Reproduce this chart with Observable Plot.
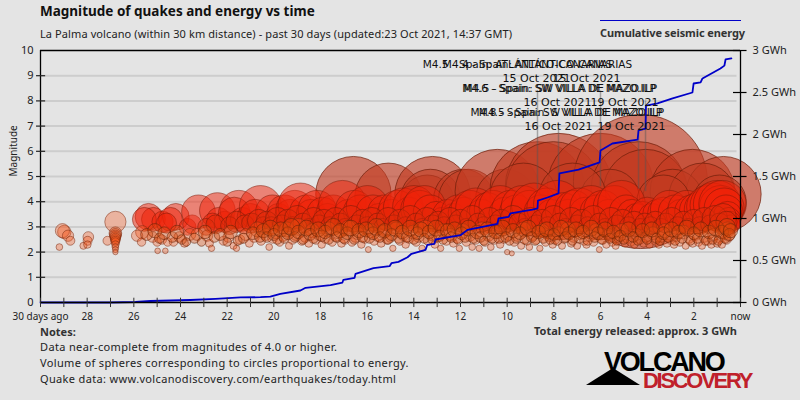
<!DOCTYPE html>
<html><head><meta charset="utf-8">
<script src="https://cdn.jsdelivr.net/npm/d3@7"></script>
<script src="https://cdn.jsdelivr.net/npm/@observablehq/plot@0.6"></script>
<style>
html,body{margin:0;padding:0;background:#e4e4e4;width:800px;height:400px;overflow:hidden}
#wrap{position:relative;width:800px;height:400px;font-family:"Noto Sans",sans-serif;color:#222}
#wrap svg{position:absolute;left:0;top:0}
.t{position:absolute;white-space:nowrap;line-height:1}
.n{letter-spacing:.35px}
</style></head><body><div id="wrap">
<div class="t" style="left:40px;top:5px;font-size:13.5px;font-weight:700;color:#111">Magnitude of quakes and energy vs time</div>
<div class="t" style="left:40px;top:28px;font-size:11px;letter-spacing:.1px">La Palma volcano (within 30 km distance) - past 30 days (updated:23 Oct 2021, 14:37 GMT)</div>
<div style="position:absolute;left:600px;top:20px;width:141px;height:1px;background:#0000c8"></div>
<div class="t" style="left:600px;top:27px;font-size:11px;font-weight:700;color:#333;letter-spacing:-.1px">Cumulative seismic energy</div>
<div class="t" style="left:40px;top:326px;font-size:11px;font-weight:700;color:#333">Notes:</div>
<div class="t" style="left:534px;top:325px;font-size:11px;font-weight:700;color:#333">Total energy released: approx. 3 GWh</div>
<div class="t n" style="left:40px;top:341px;font-size:11px">Data near-complete from magnitudes of 4.0 or higher.</div>
<div class="t n" style="left:40px;top:357px;font-size:11px">Volume of spheres corresponding to circles proportional to energy.</div>
<div class="t n" style="left:40px;top:373px;font-size:11px">Quake data: www.volcanodiscovery.com/earthquakes/today.html</div>
<div style="position:absolute;left:586px;top:368px;width:0;height:0;border-left:27px solid transparent;border-right:27px solid transparent;border-bottom:17px solid #000"></div>
<div class="t" style="left:604px;top:347px;font:700 27px 'Liberation Sans',sans-serif;letter-spacing:-2.2px;color:#000">VOLCANO</div>
<div class="t" style="left:643px;top:368px;font:700 22px 'Liberation Sans',sans-serif;letter-spacing:-2.3px;color:#c0202a">DISCOVERY</div>
</div>
<script>
// Cumulative energy: [days ago, GWh]
const energy = [[30,0],[27,0],[25.93,.006],[25.29,.018],[24.43,.024],[23.57,.03],[22.5,.042],[21.43,.06],[20.57,.063],[20.15,.071],[19.72,.103],[18.86,.143],[18.64,.175],[17.57,.206],[17.06,.238],[17.02,.27],[16.54,.294],[16.5,.341],[15.73,.408],[15.04,.432],[14.96,.468],[14.66,.484],[14.27,.539],[14.1,.58],[13.5,.627],[13.42,.687],[13.12,.699],[13.07,.75],[12,.801],[11.7,.865],[10.42,.935],[10.37,1],[9.94,1.02],[9.86,1.06],[8.92,1.107],[8.7,1.12],[8.68,1.214],[8.27,1.25],[7.8,1.298],[7.76,1.536],[6.94,1.583],[6.04,1.667],[6,1.81],[5.49,1.893],[4.41,1.94],[4.37,2.048],[4.07,2.071],[4.05,2.345],[3.56,2.37],[2.91,2.43],[2.06,2.5],[2.01,2.607],[1.71,2.62],[1.63,2.667],[.86,2.786],[.69,2.82],[.64,2.893],[.39,2.905]];

// Quakes: [days ago, magnitude]
const largeQuakes = [[16.59,4.3],[15.09,4.2],[13.2,4.3],[13.42,4.0],[13.29,4.1],[11.87,4.1],[11.66,4.1],[10.42,4.4],[10.07,4.1],[8.7,4.5],[7.8,4.6],[8.02,4.5],[6,4.6],[4.29,4.8],[4.37,4.5],[4.07,4.4],[2.06,4.4],[.73,4.3],[2.91,4.1],[1.63,4.2],[5.6,4.1],[9.3,4.2],[7.2,4.2],[3.3,4.0],[.9,4.0]];

const mediumQuakes = [[25.37,3.4],[25.16,3.3],[25.55,3.3],[24.77,3.2],[24.2,3.4],[24.43,3.3],[24.6,3.15],[23.7,3.0],[23.5,3.1],[23.23,3.6],[22.42,3.65],[22.37,3.3],[22.63,3.15],[22.1,3.2],[21.5,3.7],[21.7,3.55],[21.35,3.3],[21,3.4],[20.57,3.8],[20.8,3.5],[20.06,3.6],[19.8,3.4],[19.55,3.6],[19.3,3.5],[19.1,3.7],[18.86,3.85],[18.6,3.6],[18.4,3.5],[18.15,3.7],[17.9,3.55],[17.7,3.4],[17.45,3.6],[17.06,3.9],[16.8,3.5],[16.55,3.7],[16.3,3.6],[15.99,3.8],[15.75,3.6],[15.5,3.4],[15.25,3.6],[14.95,3.5],[14.7,3.7],[14.45,3.75],[14.2,3.55],[14.0,3.8],[13.75,3.7],[13.55,3.8],[13.3,3.6],[13.05,3.45],[12.8,3.3],[12.55,3.5],[12.3,3.4],[12.1,3.6],[11.85,3.55],[11.6,3.7],[11.35,3.75],[11.1,3.5],[10.85,3.65],[10.6,3.7],[10.3,3.8],[10.1,3.55],[9.85,3.7],[9.6,3.6],[9.35,3.8],[9.05,3.7],[8.85,3.85],[8.55,3.6],[8.3,3.75],[8.1,3.5],[7.85,3.9],[7.6,3.65],[7.4,3.5],[7.15,3.7],[6.9,3.75],[6.65,3.55],[6.4,3.8],[6.15,3.6],[5.9,3.7],[5.65,3.5],[5.4,3.8],[5.1,3.9],[4.9,3.6],[4.65,3.5],[4.45,3.4],[4.2,3.45],[4.0,3.55],[3.8,3.4],[3.55,3.5],[3.3,3.55],[3.05,3.7],[2.8,3.6],[2.55,3.5],[2.3,3.7],[2.1,3.6],[1.85,3.65],[1.6,3.7],[1.4,3.8],[1.2,3.85],[1.0,3.9],[.85,3.8],[.77,3.9],[.7,3.75],[.62,3.6],[.55,3.45],[.5,3.3],[.45,3.2],[.42,3.1]];

const lowMediumQuakes = [[22.9,3.0],[22.5,3.1],[21.9,3.05],[21.6,3.2],[21.25,3.1],[20.95,3.15],[20.65,3.25],[20.45,3.05],[20.3,3.2],[20.1,3.05],[19.85,3.3],[19.65,3.1],[19.4,3.25],[19.2,3.05],[19,3.35],[18.75,3.15],[18.5,3.0],[18.3,3.3],[18.05,3.1],[17.85,3.25],[17.6,3.05],[17.35,3.3],[17.15,3.15],[16.95,3.0],[16.7,3.35],[16.45,3.1],[16.2,3.25],[16,3.05],[15.8,3.3],[15.55,3.15],[15.35,3.0],[15.1,3.3],[14.85,3.1],[14.6,3.25],[14.35,3.05],[14.15,3.35],[13.9,3.15],[13.65,3.0],[13.45,3.3],[13.2,3.1],[12.95,3.2],[12.7,3.05],[12.45,3.3],[12.2,3.1],[12,3.25],[11.75,3.0],[11.5,3.35],[11.25,3.15],[11,3.05],[10.75,3.3],[10.5,3.1],[10.25,3.25],[10,3.05],[9.75,3.35],[9.5,3.15],[9.25,3.0],[9,3.3],[8.75,3.1],[8.5,3.25],[8.25,3.05],[8,3.35],[7.75,3.15],[7.5,3.0],[7.25,3.3],[7,3.1],[6.8,3.25],[6.55,3.05],[6.3,3.35],[6.05,3.15],[5.8,3.0],[5.55,3.3],[5.3,3.1],[5.05,3.25],[4.8,3.05],[4.55,3.2],[4.3,3.0],[4.1,3.15],[3.85,3.05],[3.65,3.2],[3.4,3.0],[3.2,3.15],[2.95,3.3],[2.7,3.05],[2.45,3.2],[2.25,3.0],[2,3.25],[1.75,3.05],[1.55,3.3],[1.3,3.1],[1.1,3.35],[.9,3.15],[.75,3.4],[.6,3.2]];

const smallQuakes = [[29.19,2.2],[28.98,2.8],[29.06,2.85],[28.82,2.65],[28.72,2.45],[28.16,2.25],[27.95,2.6],[27.98,2.45],[27.99,2.3],[27.13,2.45],[26.79,3.2],[26.79,2.75],[26.79,2.7],[26.79,2.65],[26.79,2.6],[26.79,2.55],[26.79,2.5],[26.79,2.45],[26.79,2.4],[26.79,2.3],[26.79,2.2],[26.79,2.1],[26.79,2.0],
[25.64,2.79],[25.86,2.65],[25.67,2.4],[24.98,2.05],[24.65,2.05],[25.2,2.6],[25,2.4],[24.8,2.5],[24.55,2.4],[24.3,2.4],[23.83,2.35],[24.05,2.6],[23.6,2.7],[23.29,2.7],[22.86,2.65],[22.76,2.35],[22.67,2.15],[22.16,2.45],[21.73,2.25],[21.6,2.15],[21.95,2.6],[21.45,2.5],[21.2,2.7],[21.05,2.35],[20.85,2.6],[20.7,2.9],[20.55,2.45],[20.35,2.7],[20.2,2.2],[20.05,2.55],[19.9,2.8],[19.75,2.4],[19.6,2.65],[19.45,2.9],[19.35,2.25],[19.2,2.5],[19.05,2.7],[18.95,3.0],[18.8,2.45],[18.65,2.6],[18.5,2.35],[18.35,2.85],[18.2,2.5],[18.05,2.7],[17.95,2.3],[17.8,2.55],[17.65,2.9],[17.5,2.4],[17.35,2.65],[17.25,2.8],[17.1,2.35],[16.95,2.5],[16.8,2.95],[16.65,2.4],[16.5,2.6],[16.4,2.75],[16.25,2.3],[16.1,2.55],[15.95,2.1],[15.85,2.85],[15.7,2.45],[15.55,2.65],[15.4,2.35],[15.3,2.8],[15.15,2.5],[15,2.6],[14.9,2.15],[14.75,2.9],[14.6,2.45],[14.45,2.7],[14.35,2.3],[14.2,2.55],[14.05,2.8],[13.9,2.4],[13.8,2.6],[13.65,2.15],[13.5,2.95],[13.4,2.45],[13.25,2.7],[13.1,2.3],[13,2.6],[12.85,2.15],[12.7,2.85],[12.6,2.45],[12.45,2.7],[12.3,2.35],[12.15,2.55],[12.05,2.15],[11.9,2.85],[11.75,2.4],[11.6,2.65],[11.5,2.2],[11.35,2.5],[11.2,2.15],[11.1,2.9],[10.95,2.4],[10.8,2.65],[10.7,2.2],[10.55,2.5],[10.4,2.8],[10.3,2.3],[10.15,2.55],[10,2.0],[9.95,2.7],[9.8,1.95],[9.7,2.4],[9.55,2.65],[9.4,2.25],[9.3,2.9],[9.15,2.45],[9.05,2.2],[8.9,2.7],[8.75,2.5],[8.6,2.15],[8.5,2.85],[8.35,2.4],[8.2,2.65],[8.05,2.3],[7.95,2.5],[7.8,2.75],[7.65,2.25],[7.55,2.55],[7.4,2.9],[7.25,2.35],[7.15,2.6],[7,2.25],[6.85,2.75],[6.7,2.45],[6.6,2.3],[6.45,2.65],[6.3,2.4],[6.2,2.85],[6.05,2.1],[5.9,2.5],[5.75,2.3],[5.65,2.7],[5.5,2.4],[5.35,2.25],[5.25,2.6],[5.1,2.85],[4.95,2.35],[4.85,2.55],[4.7,2.4],[4.55,2.3],[4.45,2.7],[4.3,2.5],[4.15,2.35],[4.05,2.6],[3.9,2.3],[3.75,2.75],[3.65,2.45],[3.5,2.3],[3.4,2.6],[3.25,2.85],[3.15,2.35],[3,2.5],[2.85,2.3],[2.75,2.65],[2.6,2.4],[2.45,2.8],[2.35,2.25],[2.2,2.55],[2.05,2.35],[1.95,2.7],[1.8,2.4],[1.65,2.25],[1.55,2.6],[1.4,2.45],[1.25,2.3],[1.15,2.7],[1.0,2.35],[.9,2.55],[.8,2.3],[.7,2.75],[.6,2.5],[.55,2.9],[.5,2.65]];

const denseQuakes = [[25.45,2.7],[25.1,2.85],[24.9,2.55],[24.7,2.75],[24.35,2.6],[24.15,2.8],[23.95,2.5],[23.75,2.4],[23.4,2.55],[23.1,2.4],[22.95,2.8],[22.55,2.6],[22.3,2.7],[22,2.4],[21.85,2.8],[21.55,2.45],[21.3,2.55],[20.9,2.75],[20.6,2.6],[20.45,2.85],[20.3,2.6],[20.15,2.95],[20,2.7],[19.85,2.5],[19.7,2.9],[19.55,2.55],[19.4,2.75],[19.25,3.0],[19.1,2.6],[18.95,2.8],[18.75,2.5],[18.6,2.95],[18.45,2.7],[18.3,2.55],[18.1,2.9],[17.95,2.65],[17.8,2.8],[17.65,2.5],[17.45,3.0],[17.3,2.6],[17.15,2.85],[17,2.55],[16.85,2.75],[16.7,2.95],[16.55,2.5],[16.35,2.85],[16.2,2.6],[16.05,2.9],[15.9,2.55],[15.75,2.75],[15.6,3.0],[15.45,2.6],[15.25,2.85],[15.1,2.5],[14.95,2.7],[14.8,2.95],[14.65,2.55],[14.5,2.8],[14.3,2.6],[14.15,2.95],[14,2.5],[13.85,2.75],[13.7,2.9],[13.55,2.55],[13.35,2.8],[13.2,2.5],[13.05,2.95],[12.9,2.65],[12.75,2.5],[12.55,2.85],[12.4,2.6],[12.25,2.9],[12.1,2.5],[11.95,2.75],[11.8,2.6],[11.65,2.95],[11.45,2.55],[11.3,2.8],[11.15,2.6],[11,2.45],[10.85,2.9],[10.65,2.55],[10.5,2.8],[10.35,2.55],[10.2,2.95],[10.05,2.6],[9.9,2.45],[9.75,2.85],[9.6,2.55],[9.45,2.75],[9.25,2.5],[9.1,2.95],[8.95,2.6],[8.8,2.45],[8.65,2.8],[8.45,2.55],[8.3,2.9],[8.15,2.5],[8,2.7],[7.85,2.45],[7.7,2.95],[7.5,2.6],[7.35,2.75],[7.2,2.45],[7.05,2.9],[6.9,2.55],[6.75,2.8],[6.55,2.45],[6.4,2.95],[6.25,2.6],[6.1,2.75],[5.95,2.5],[5.8,2.9],[5.6,2.55],[5.45,2.8],[5.3,2.45],[5.15,2.65],[5,2.5],[4.8,2.9],[4.6,2.6],[4.4,2.45],[4.2,2.85],[4,2.5],[3.8,2.9],[3.6,2.55],[3.45,2.45],[3.3,2.75],[3.1,2.6],[2.95,2.9],[2.8,2.45],[2.65,2.8],[2.5,2.55],[2.3,2.95],[2.15,2.45],[2,2.75],[1.85,2.55],[1.7,2.9],[1.5,2.45],[1.35,2.8],[1.2,2.5],[1.05,2.95],[.95,2.45],[.8,2.8],[.65,2.55],[.58,3.0],[.48,2.7],[.43,2.85]];

// Labels: [text, days ago, magnitude height]
const nameLabels = [["M4.5 - Spain: ATLÁNTICO-CANARIAS",9.56,9.44],["M4.4 - Spain: ATLÁNTICO-CANARIAS",8.7,9.44],["M4.6 - Spain: SW VILLA DE MAZO.ILP",7.78,8.49],["M4.5 - Spain: SW VILLA DE MAZO.ILP",7.72,8.49],["M4.8 - Spain: SW VILLA DE MAZO.ILP",7.42,7.54],["M4.5 - Spain: S VILLA DE MAZO.ILP",7.29,7.54]];
const dateLabels = [["15 Oct 2021",8.74,8.89],["15 Oct 2021",6.6,8.89],["16 Oct 2021",7.84,7.94],["19 Oct 2021",4.97,7.94],["16 Oct 2021",7.8,6.98],["19 Oct 2021",4.67,6.98]];
const stemDays = [8.7,7.8,6,4.37,4.07];
const stemTops = [8.4,6.9,8.4,6.9,8.0];
const stemMags = [4.5,4.6,4.6,4.5,4.4];

const magTicks = [0,1,2,3,4,5,6,7,8,9,10];
const gwhTicks = [0,.5,1,1.5,2,2.5,3];
const gwhLabels = ["0 GWh","0.5 GWh","1 GWh","1.5 GWh","2 GWh","2.5 GWh","3 GWh"];
const dayTicks = d3.range(0,31);
const dayLabels = [30,28,26,24,22,20,18,16,14,12,10,8,6,4,2,0];

const toMag = g => g/3*10;
const E = d => Math.pow(10,1.5*d[1]);
const dot = (data,fill,fo,stroke,so) => Plot.dot(data,{x:d=>d[0],y:d=>d[1],r:E,fill,fillOpacity:fo,stroke,strokeOpacity:so,strokeWidth:1,sort:null});
const font = "'DejaVu Sans',sans-serif";

const chart = Plot.plot({
  width:800,height:400,marginTop:50,marginBottom:98,marginLeft:40,marginRight:60,
  style:{background:"transparent",fontFamily:"'Noto Sans',sans-serif",fontSize:"11px",color:"#222"},
  x:{domain:[30,0],range:[40,740]},
  y:{domain:[0,10],range:[302,50]},
  r:{type:"pow",exponent:1/3,domain:[0,Math.pow(10,1.5*4.8)],range:[0,67]},
  marks:[
    Plot.ruleY(magTicks.slice(1,10),{x1:30,x2:.15,stroke:"#cdcdcd",strokeWidth:2}),
    dot(largeQuakes,"#c23a20",.62,"#6e1e0a",.7),
    dot(mediumQuakes,"#f02208",.5,"#7a1a08",.5),
    dot(lowMediumQuakes,"#e02a08",.45,"#6e1a08",.5),
    dot(smallQuakes,"#f5551a",.34,"#7a2a10",.5),
    dot(denseQuakes,"#d8480a",.36,"#5e2008",.55),
    Plot.ruleX(stemDays,{x:d=>d,y1:(d,i)=>stemTops[i],y2:(d,i)=>stemMags[i],stroke:"#555",strokeOpacity:.45,strokeWidth:1.5}),
    Plot.line(energy,{x:d=>d[0],y:d=>toMag(d[1]),stroke:"#0000c8",strokeWidth:1.8}),
    Plot.ruleY([0,10],{x1:30,x2:0,stroke:"#000",strokeWidth:1.3}),
    Plot.ruleX([30,0],{y1:0,y2:10,stroke:"#000",strokeWidth:1.3}),
    Plot.ruleX(dayTicks,{x:d=>d,y1:-.2,y2:.17,stroke:"#333",strokeWidth:1}),
    Plot.ruleY(magTicks.slice(1,10),{y:d=>d,x1:30.17,x2:29.78,stroke:"#222",strokeWidth:1.2}),
    Plot.ruleY(gwhTicks,{y:toMag,x1:.3,x2:-.28,stroke:"#000",strokeWidth:1.2}),
    Plot.axisY({ticks:magTicks,tickSize:0,tickPadding:7,tickFormat:d=>String(d),fontSize:11,fill:"#222",label:null}),
    Plot.axisY({anchor:"right",ticks:gwhTicks.map(toMag),tickSize:0,tickPadding:12,tickFormat:(d,i)=>gwhLabels[i],fontSize:11,fill:"#222",label:null}),
    Plot.axisX({ticks:dayLabels,tickSize:0,tickPadding:10,tickFormat:d=>d===30?"30 days ago":d===0?"now":String(d),fontSize:10,fill:"#222",label:null}),
    Plot.text(["Magnitude"],{frameAnchor:"left",dx:-27,dy:0,rotate:-90,text:d=>d,fontSize:10,fill:"#222"}),
    Plot.text(nameLabels,{x:d=>d[1],y:d=>d[2],text:d=>d[0],fontFamily:font,fontSize:10.5,fill:"#111"}),
    Plot.text(dateLabels,{x:d=>d[1],y:d=>d[2],text:d=>d[0],fontFamily:font,fontSize:11,fill:"#111"})
  ]
});
document.getElementById("wrap").prepend(chart);
</script></body></html>
